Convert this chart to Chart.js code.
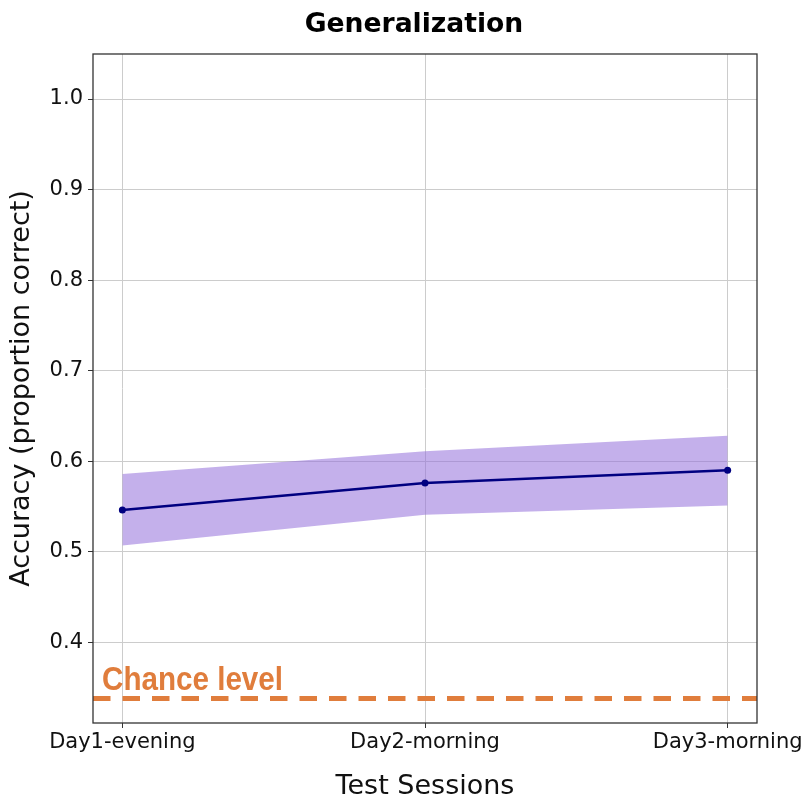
<!DOCTYPE html>
<html><head><meta charset="utf-8">
<script src="https://cdn.jsdelivr.net/npm/chart.js@4/dist/chart.umd.min.js"></script>
<style>html,body{margin:0;padding:0;background:#fff}</style>
</head><body>
<canvas id="c" width="805" height="801"></canvas>
<script>
const categories = ['Day1-evening', 'Day2-morning', 'Day3-morning'];
const meanAccuracy = [0.546, 0.576, 0.590];
const upperBound = [0.586, 0.611, 0.628];
const lowerBound = [0.507, 0.541, 0.551];
const chanceLevel = 0.338;
const chanceLabel = 'Chance level';
const chartTitle = 'Generalization';
const yTicks = [0.4, 0.5, 0.6, 0.7, 0.8, 0.9, 1.0];

const toPoints = arr => arr.map((v, i) => ({x: i, y: v}));
const ORANGE = '#e07d3c';
const FONT = "'DejaVu Sans', sans-serif";

const framePlugin = {
  id: 'frameAndChance',
  beforeDatasetsDraw(chart) {
    const {ctx, chartArea: a, scales: {y}} = chart;
    const py = y.getPixelForValue(chanceLevel);
    ctx.save();
    ctx.beginPath();
    ctx.rect(a.left, a.top, a.right - a.left, a.bottom - a.top);
    ctx.clip();
    ctx.strokeStyle = ORANGE;
    ctx.lineWidth = 5;
    ctx.setLineDash([17.5, 12]);
    ctx.beginPath();
    ctx.moveTo(a.left, py);
    ctx.lineTo(a.right, py);
    ctx.stroke();
    ctx.restore();
    // label
    ctx.save();
    ctx.fillStyle = ORANGE;
    ctx.font = "bold 33px 'Liberation Sans Narrow', 'Liberation Sans', sans-serif";
    ctx.textBaseline = 'alphabetic';
    const w = ctx.measureText(chanceLabel).width;
    const targetW = 181;
    ctx.translate(a.left + 9, py - 8);
    ctx.scale(targetW / w, 1);
    ctx.fillText(chanceLabel, 0, 0);
    ctx.restore();
  },
  afterDraw(chart) {
    const {ctx, chartArea: a} = chart;
    ctx.save();
    ctx.strokeStyle = '#333';
    ctx.lineWidth = 1.3;
    ctx.strokeRect(a.left, a.top, a.right - a.left, a.bottom - a.top);
    // title
    ctx.fillStyle = '#000';
    ctx.font = "bold 26.6px " + FONT;
    ctx.textAlign = 'center';
    ctx.textBaseline = 'alphabetic';
    ctx.fillText(chartTitle, (a.left + a.right) / 2 - 11, 32.3);
    ctx.restore();
  }
};

new Chart(document.getElementById('c'), {
  type: 'line',
  data: {
    datasets: [
      {
        label: 'Mean accuracy',
        data: toPoints(meanAccuracy),
        borderColor: '#000080',
        backgroundColor: '#000080',
        borderWidth: 2.5,
        pointRadius: 3.5,
        pointBackgroundColor: '#000080',
        pointBorderWidth: 0,
        fill: false,
        tension: 0
      },
      {
        label: 'Upper',
        data: toPoints(upperBound),
        borderWidth: 0,
        pointRadius: 0,
        backgroundColor: 'rgba(147,112,219,0.55)',
        fill: '+1',
        tension: 0
      },
      {
        label: 'Lower',
        data: toPoints(lowerBound),
        borderWidth: 0,
        pointRadius: 0,
        backgroundColor: 'rgba(147,112,219,0.55)',
        fill: false,
        tension: 0
      }
    ]
  },
  options: {
    responsive: false,
    animation: false,
    devicePixelRatio: 1,
    layout: {padding: {left: 0, right: 48, top: 54, bottom: 0}},
    plugins: {
      legend: {display: false},
      tooltip: {enabled: false},
      title: {display: false}
    },
    scales: {
      x: {
        type: 'linear',
        min: -0.097,
        max: 2.097,
        afterBuildTicks: s => { s.ticks = categories.map((c, i) => ({value: i})); },
        afterFit: s => { s.height = 78; s.paddingLeft = 0; s.paddingRight = 0; },
        ticks: {
          callback: v => categories[v],
          color: '#111',
          font: {family: FONT, size: 21},
          padding: 2,
          maxRotation: 0,
          autoSkip: false
        },
        grid: {color: '#cccccc', lineWidth: 1, tickColor: '#333', tickLength: 5},
        border: {display: false},
        title: {
          display: true,
          text: 'Test Sessions',
          color: '#111',
          font: {family: FONT, size: 27, lineHeight: 1},
          padding: {top: 0, bottom: 1}
        }
      },
      y: {
        min: 0.3109,
        max: 1.0497,
        afterBuildTicks: s => { s.ticks = yTicks.map(v => ({value: v})); },
        afterFit: s => { s.width = 93; s.paddingTop = 0; s.paddingBottom = 0; },
        ticks: {
          callback: v => v.toFixed(1),
          color: '#111',
          font: {family: FONT, size: 21},
          padding: 5
        },
        grid: {color: '#cccccc', lineWidth: 1, tickColor: '#333', tickLength: 5},
        border: {display: false},
        title: {
          display: true,
          text: 'Accuracy (proportion correct)',
          color: '#111',
          font: {family: FONT, size: 27, lineHeight: 1.2},
          padding: {top: 6, bottom: 0}
        }
      }
    }
  },
  plugins: [framePlugin]
});
</script>
</body></html>
